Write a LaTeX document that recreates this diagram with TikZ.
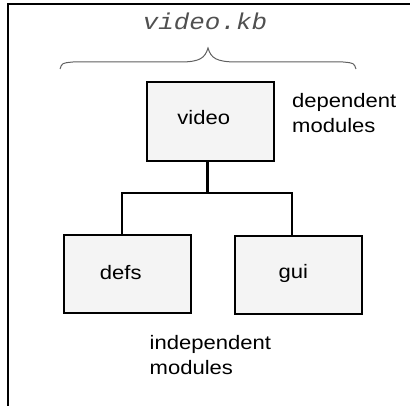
\documentclass[tikz,border=0pt]{standalone}
\usepackage{fontspec}
\setmainfont[FakeStretch=1.13]{Liberation Sans}
\newfontfamily\kbfont[FakeStretch=1.13]{Liberation Mono}
\definecolor{boxgray}{HTML}{F4F4F4}
\definecolor{kbgray}{HTML}{505050}
\definecolor{bracegray}{HTML}{606060}
\begin{document}
\begin{tikzpicture}[x=1pt,y=-1pt,
  modbox/.style={draw, line width=2.2pt, fill=boxgray, inner sep=0pt,
                 minimum width=127pt, minimum height=78pt},
  wire/.style={line width=2pt, line join=miter},
  trunk/.style={line width=3pt},
  lbl/.style={inner sep=0pt, font=\fontsize{19.5}{25}\selectfont},
  kb/.style={inner sep=0pt, text=kbgray, font=\kbfont\itshape\fontsize{22.9}{26}\selectfont},
  brace/.style={draw=bracegray, line width=1pt}]
\useasboundingbox (0,0) rectangle (410,406);

% open frame: top edge and left edge
\draw[line width=2pt, line join=miter] (410,4) -- (8,4) -- (8,406);

% knowledge-base title and its brace
\node[kb, anchor=base] (kbtxt) at (205,30) {video.kb};
\draw[brace] (60,69) .. controls (62,63) .. (73,62) -- (180,62)
  .. controls (200,62) and (205,58) .. (208,48)
  .. controls (211,58) and (216,62) .. (237,62) -- (343,62)
  .. controls (354,63) .. (356,69);

% module boxes
\node[modbox, minimum height=79pt] (video) at (210.5,121.5) {};
\node[modbox] (defs) at (127.8,273.7) {};
\node[modbox] (gui)  at (298.2,274.7) {};

% module names
\node[lbl, anchor=base] (videotxt) at (203.7,124.3) {video};
\node[lbl, anchor=base] (defstxt) at (120.8,279.3) {defs};
\node[lbl, anchor=base] (guitxt) at (293.3,278.3) {gui};

% dependency tree
\coordinate (fork)  at (207,193);
\coordinate (forkL) at (122.3,193);
\coordinate (forkR) at (292.3,193);
\draw[trunk] (video.south -| fork) -- (fork);
\draw[wire] (defs.north -| forkL) -- (forkL) -- (forkR) -- (gui.north -| forkR);

% annotations
\node[lbl, anchor=north west, align=left] (deptxt) at (292,93.3) {dependent\\modules};
\node[lbl, anchor=north west, align=left] (indeptxt) at (149.5,335) {independent\\modules};
\end{tikzpicture}
\end{document}
